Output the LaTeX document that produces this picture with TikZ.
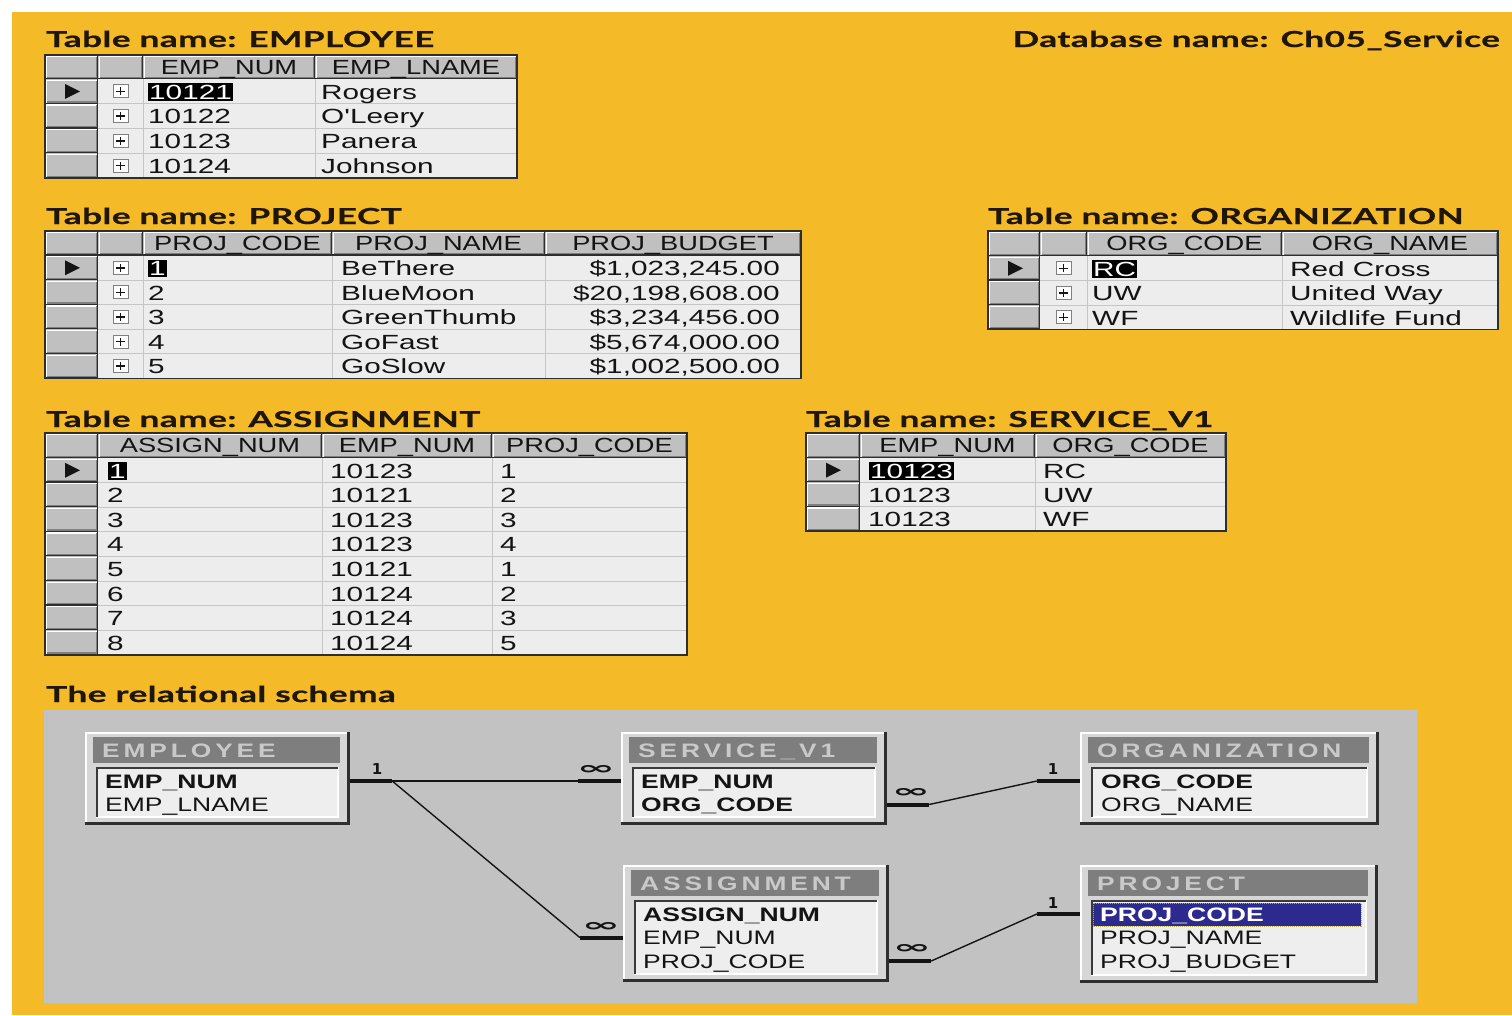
\documentclass[tikz,border=0pt]{standalone}
\usepackage{fontspec}
\usepackage{graphicx}
\usetikzlibrary{fit,calc}
\setmainfont{Liberation Sans}
\newfontfamily\cellfont[FakeStretch=1.45]{Liberation Sans}
\newfontfamily\headfont[FakeStretch=1.33]{Liberation Sans}
\newfontfamily\titlefont[FakeStretch=1.6,FakeBold=0.7,LetterSpace=2]{Lato}
\newfontfamily\schemafont[FakeStretch=1.36]{Liberation Sans}
\newfontfamily\boxtitlefont[FakeStretch=1.35,LetterSpace=20]{Liberation Sans}
\newfontfamily\symfont{DejaVu Sans}

\definecolor{pageyellow}{HTML}{F5BA27}
\definecolor{schemagray}{HTML}{C2C2C2}
\definecolor{hdrgray}{HTML}{C0C0C0}
\definecolor{cellbg}{HTML}{EDEDED}
\definecolor{gridgray}{HTML}{C6C6C6}
\definecolor{edgedark}{HTML}{2E2E2E}
\definecolor{midshadow}{HTML}{808080}
\definecolor{ink}{HTML}{141414}
\definecolor{titleink}{HTML}{1E1608}
\definecolor{boxface}{HTML}{D6D6D6}
\definecolor{titlebar}{HTML}{7E7E7E}
\definecolor{titletext}{HTML}{C9C9C9}
\definecolor{panel}{HTML}{EEEEEE}
\definecolor{panelshadow}{HTML}{3A3A3A}
\definecolor{keynavy}{HTML}{2C2A8E}
\definecolor{focusdots}{HTML}{B8AC50}

% raised grey cell: x1 y1 x2 y2 (y grows downwards)
\newcommand\raised[4]{%
  \fill[hdrgray] (#1,#2) rectangle (#3,#4);
  \draw[white, line width=1.2pt] ({#1+1.2},{#4-1}) -- ({#1+1.2},{#2+1.2}) -- ({#3-1},{#2+1.2});
  \draw[midshadow, line width=1.2pt] ({#1+1.5},{#4-1.8}) -- ({#3-1.8},{#4-1.8}) -- ({#3-1.8},{#2+1.5});
  \draw[edgedark, line width=1.2pt] (#1,{#4-0.6}) -- ({#3-0.6},{#4-0.6}) -- ({#3-0.6},#2);
}
% grid body: left, selector right, right, top, header bottom, row height, rows
\newcommand\tablebase[7]{%
  \pgfmathsetmacro\tbot{#5+#7*#6}%
  \fill[cellbg] (#2,#5) rectangle (#3,\tbot);
  \foreach \k in {1,...,#7}{%
    \pgfmathsetmacro\ya{#5+(\k-1)*#6}%
    \pgfmathsetmacro\yb{#5+\k*#6}%
    \draw[gridgray, line width=1pt] (#2,\yb) -- (#3,\yb);
    \raised{#1}{\ya}{#2}{\yb}%
  }%
  \raised{#1}{#4}{#2}{#5}%
}
\newcommand\tableborder[3]{% left, top, right
  \draw[edgedark, line width=1.8pt] (#1,#2) rectangle (#3,\tbot);
}
% expand box with a plus sign, centred at x y
\newcommand\plusicon[2]{%
  \draw[midshadow, fill=white, line width=1pt] ({#1-7.5},{#2-6.5}) rectangle ({#1+7.5},{#2+6.5});
  \draw[ink, line width=1.6pt] ({#1-4.5},#2) -- ({#1+4.5},#2) (#1,{#2-4}) -- (#1,{#2+4});
}
% current-record marker, centred at x y
\newcommand\rowmark[2]{%
  \fill[ink] ({#1-7},{#2-7.5}) -- ({#1+8},#2) -- ({#1-7},{#2+7.5}) -- cycle;
}
% schema table window: name, x1, y1, x2, y2, title
\newcommand\schemabox[6]{%
  \fill[boxface] (#2,#3) rectangle (#4,#5);
  \draw[white, line width=1.5pt] ({#2+0.75},#5) -- ({#2+0.75},{#3+0.75}) -- (#4,{#3+0.75});
  \draw[edgedark, line width=2.6pt] (#2,{#5-1.3}) -- ({#4-1.3},{#5-1.3}) -- ({#4-1.3},#3);
  \fill[titlebar] ({#2+8},{#3+5}) rectangle ({#4-10},{#3+31});
  \fill[panel] ({#2+11},{#3+35}) rectangle ({#4-12},{#5-8});
  \draw[white, line width=1.5pt] ({#2+11},{#5-8}) -- ({#4-12},{#5-8}) -- ({#4-12},{#3+35});
  \draw[panelshadow, line width=2pt] ({#2+12},{#5-8}) -- ({#2+12},{#3+36}) -- ({#4-12},{#3+36});
  \node[fit={(#2,#3) (#4,#5)}, inner sep=0pt] (#1) {};
  \node[boxttl] (#1-title) at ({#2+17},{#3+25}) {#6};
}

\begin{document}
\begin{tikzpicture}[x=1pt,y=-1pt,
  cell/.style={font=\cellfont\fontsize{20.5}{20.5}\selectfont, inner sep=0pt, anchor=base west, text=ink},
  num/.style={cell, anchor=base east},
  hdr/.style={font=\headfont\fontsize{20.5}{20.5}\selectfont, inner sep=0pt, anchor=base, text=ink},
  sel/.style={fill=black, text=white, inner xsep=1pt, inner ysep=1.5pt},
  ttl/.style={font=\titlefont\bfseries\fontsize{22}{22}\selectfont, inner sep=0pt, anchor=base west, text=titleink},
  fld/.style={font=\schemafont\fontsize{19.5}{19.5}\selectfont, inner sep=0pt, anchor=west,
              text height=14pt, text depth=0pt, text=ink},
  key/.style={fld, font=\schemafont\bfseries\fontsize{19.5}{19.5}\selectfont},
  boxttl/.style={font=\boxtitlefont\bfseries\fontsize{19.5}{19.5}\selectfont, inner sep=0pt,
                 anchor=base west, text=titletext},
  rel/.style={draw=ink, line width=1.4pt},
  relend/.style={draw=ink, line width=4pt},
  card/.style={font=\symfont\bfseries\fontsize{15}{15}\selectfont, inner sep=0pt, text=ink},
  many/.style={font=\symfont\bfseries\fontsize{17}{17}\selectfont, inner sep=0pt, text=ink}]

\useasboundingbox (0,0) rectangle (1512,1015);
\fill[white] (0,0) rectangle (1512,1015);
\fill[pageyellow] (12,12) rectangle (1512,1015);

% ---------- headings ----------
\node[ttl] (t-emp) at (46,47) {Table name: EMPLOYEE};
\node[ttl, anchor=base east] (t-db) at (1500,47) {Database name: Ch05\_Service};
\node[ttl] (t-proj) at (46,224) {Table name: PROJECT};
\node[ttl] (t-org) at (988,224) {Table name: ORGANIZATION};
\node[ttl] (t-asg) at (46,427) {Table name: ASSIGNMENT};
\node[ttl] (t-svc) at (806,427) {Table name: SERVICE\_V1};
\node[ttl] (t-rel) at (46,702) {The relational schema};

% ---------- EMPLOYEE ----------
\tablebase{45}{98}{517}{55}{79}{24.75}{4}
\raised{98}{55}{143}{79}
\raised{143}{55}{315}{79}
\raised{315}{55}{517}{79}
\draw[gridgray, line width=1pt] (143,79) -- (143,\tbot) (315,79) -- (315,\tbot);
\foreach \k in {0,...,3}{\plusicon{120.5}{79+12.4+\k*24.75}}
\rowmark{72}{91.4}
\node[hdr] (emp-h1) at (229,74) {EMP\_NUM};
\node[hdr] (emp-h2) at (416,74) {EMP\_LNAME};
\node[cell, sel] (emp-a1) at (148,99) {10121};
\node[cell] (emp-b1) at (321,99) {Rogers};
\node[cell] (emp-a2) at (148,123.75) {10122};
\node[cell] (emp-b2) at (321,123.75) {O'Leery};
\node[cell] (emp-a3) at (148,148.5) {10123};
\node[cell] (emp-b3) at (321,148.5) {Panera};
\node[cell] (emp-a4) at (148,173.25) {10124};
\node[cell] (emp-b4) at (321,173.25) {Johnson};
\tableborder{45}{55}{517}

% ---------- PROJECT ----------
\tablebase{45}{98}{801}{231}{255.5}{24.6}{5}
\raised{98}{231}{143}{255.5}
\raised{143}{231}{332}{255.5}
\raised{332}{231}{545}{255.5}
\raised{545}{231}{801}{255.5}
\draw[gridgray, line width=1pt] (143,255.5) -- (143,\tbot) (332,255.5) -- (332,\tbot) (545,255.5) -- (545,\tbot);
\foreach \k in {0,...,4}{\plusicon{120.5}{255.5+12.3+\k*24.6}}
\rowmark{72}{267.8}
\node[hdr] (proj-h1) at (237.5,250) {PROJ\_CODE};
\node[hdr] (proj-h2) at (438.5,250) {PROJ\_NAME};
\node[hdr] (proj-h3) at (673,250) {PROJ\_BUDGET};
\node[cell, sel] (proj-a1) at (148,275.5) {1};
\node[cell] (proj-b1) at (341,275.5) {BeThere};
\node[num] (proj-c1) at (780,275.5) {\$1,023,245.00};
\node[cell] (proj-a2) at (148,300.1) {2};
\node[cell] (proj-b2) at (341,300.1) {BlueMoon};
\node[num] (proj-c2) at (780,300.1) {\$20,198,608.00};
\node[cell] (proj-a3) at (148,324.7) {3};
\node[cell] (proj-b3) at (341,324.7) {GreenThumb};
\node[num] (proj-c3) at (780,324.7) {\$3,234,456.00};
\node[cell] (proj-a4) at (148,349.3) {4};
\node[cell] (proj-b4) at (341,349.3) {GoFast};
\node[num] (proj-c4) at (780,349.3) {\$5,674,000.00};
\node[cell] (proj-a5) at (148,373.9) {5};
\node[cell] (proj-b5) at (341,373.9) {GoSlow};
\node[num] (proj-c5) at (780,373.9) {\$1,002,500.00};
\tableborder{45}{231}{801}

% ---------- ORGANIZATION ----------
\tablebase{988}{1040}{1498}{231}{256}{24.5}{3}
\raised{1040}{231}{1087}{256}
\raised{1087}{231}{1282}{256}
\raised{1282}{231}{1498}{256}
\draw[gridgray, line width=1pt] (1087,256) -- (1087,\tbot) (1282,256) -- (1282,\tbot);
\foreach \k in {0,...,2}{\plusicon{1063.5}{256+12.3+\k*24.5}}
\rowmark{1015}{268.3}
\node[hdr] (org-h1) at (1184.5,250) {ORG\_CODE};
\node[hdr] (org-h2) at (1390,250) {ORG\_NAME};
\node[cell, sel] (org-a1) at (1092,276) {RC};
\node[cell] (org-b1) at (1290,276) {Red Cross};
\node[cell] (org-a2) at (1092,300.5) {UW};
\node[cell] (org-b2) at (1290,300.5) {United Way};
\node[cell] (org-a3) at (1092,325) {WF};
\node[cell] (org-b3) at (1290,325) {Wildlife Fund};
\tableborder{988}{231}{1498}

% ---------- ASSIGNMENT ----------
\tablebase{45}{98}{687}{433}{458}{24.6}{8}
\raised{98}{433}{322}{458}
\raised{322}{433}{492}{458}
\raised{492}{433}{687}{458}
\draw[gridgray, line width=1pt] (322,458) -- (322,\tbot) (492,458) -- (492,\tbot);
\rowmark{72}{470.3}
\node[hdr] (asg-h1) at (210,452) {ASSIGN\_NUM};
\node[hdr] (asg-h2) at (407,452) {EMP\_NUM};
\node[hdr] (asg-h3) at (589.5,452) {PROJ\_CODE};
\node[cell, sel] (asg-a1) at (108,478) {1};
\node[cell] (asg-b1) at (330,478) {10123};
\node[cell] (asg-c1) at (500,478) {1};
\node[cell] (asg-a2) at (107,502.6) {2};
\node[cell] (asg-b2) at (330,502.6) {10121};
\node[cell] (asg-c2) at (500,502.6) {2};
\node[cell] (asg-a3) at (107,527.2) {3};
\node[cell] (asg-b3) at (330,527.2) {10123};
\node[cell] (asg-c3) at (500,527.2) {3};
\node[cell] (asg-a4) at (107,551.8) {4};
\node[cell] (asg-b4) at (330,551.8) {10123};
\node[cell] (asg-c4) at (500,551.8) {4};
\node[cell] (asg-a5) at (107,576.4) {5};
\node[cell] (asg-b5) at (330,576.4) {10121};
\node[cell] (asg-c5) at (500,576.4) {1};
\node[cell] (asg-a6) at (107,601) {6};
\node[cell] (asg-b6) at (330,601) {10124};
\node[cell] (asg-c6) at (500,601) {2};
\node[cell] (asg-a7) at (107,625.6) {7};
\node[cell] (asg-b7) at (330,625.6) {10124};
\node[cell] (asg-c7) at (500,625.6) {3};
\node[cell] (asg-a8) at (107,650.2) {8};
\node[cell] (asg-b8) at (330,650.2) {10124};
\node[cell] (asg-c8) at (500,650.2) {5};
\tableborder{45}{433}{687}

% ---------- SERVICE_V1 ----------
\tablebase{806}{860}{1226}{433}{458}{24.4}{3}
\raised{860}{433}{1035}{458}
\raised{1035}{433}{1226}{458}
\draw[gridgray, line width=1pt] (1035,458) -- (1035,\tbot);
\rowmark{833}{470.2}
\node[hdr] (svc-h1) at (947.5,452) {EMP\_NUM};
\node[hdr] (svc-h2) at (1130.5,452) {ORG\_CODE};
\node[cell, sel] (svc-a1) at (869,478) {10123};
\node[cell] (svc-b1) at (1043,478) {RC};
\node[cell] (svc-a2) at (868,502.4) {10123};
\node[cell] (svc-b2) at (1043,502.4) {UW};
\node[cell] (svc-a3) at (868,526.8) {10123};
\node[cell] (svc-b3) at (1043,526.8) {WF};
\tableborder{806}{433}{1226}

% ---------- relational schema ----------
\fill[schemagray] (44,710) rectangle (1417,1003);

\schemabox{semp}{85}{732}{350}{825}{EMPLOYEE}
\node[key] (semp-f1) at (105,781) {EMP\_NUM};
\node[fld] (semp-f2) at (105,804.5) {EMP\_LNAME};

\schemabox{ssvc}{621}{732}{887}{825}{SERVICE\_V1}
\node[key] (ssvc-f1) at (641,781) {EMP\_NUM};
\node[key] (ssvc-f2) at (641,804.5) {ORG\_CODE};

\schemabox{sorg}{1080}{732}{1379}{825}{ORGANIZATION}
\node[key] (sorg-f1) at (1101,781) {ORG\_CODE};
\node[fld] (sorg-f2) at (1101,804.5) {ORG\_NAME};

\schemabox{sasg}{623}{865}{889}{982}{ASSIGNMENT}
\node[key] (sasg-f1) at (643,914) {ASSIGN\_NUM};
\node[fld] (sasg-f2) at (643,937.5) {EMP\_NUM};
\node[fld] (sasg-f3) at (643,961) {PROJ\_CODE};

\schemabox{sproj}{1080}{865}{1378}{983}{PROJECT}
\fill[keynavy] (1093,903) rectangle (1361,926);
\draw[focusdots, densely dotted, line width=1pt] (1093,903) rectangle (1361,926);
\node[key, text=white] (sproj-f1) at (1100,914) {PROJ\_CODE};
\node[fld] (sproj-f2) at (1100,937.5) {PROJ\_NAME};
\node[fld] (sproj-f3) at (1100,961) {PROJ\_BUDGET};

% EMPLOYEE 1 -- many SERVICE_V1 and ASSIGNMENT
\draw[relend] (semp.east |- semp-f1) -- ++(42,0) coordinate (jemp);
\coordinate (jsvc) at ($(ssvc.west |- ssvc-f1)+(-43,0)$);
\coordinate (jasg) at ($(sasg.west |- sasg-f2)+(-43,0)$);
\draw[rel] (jemp) -- (jsvc);
\draw[relend] (jsvc) -- (ssvc.west |- ssvc-f1);
\draw[rel] (jemp) -- (jasg);
\draw[relend] (jasg) -- (sasg.west |- sasg-f2);
\node[card] (c-emp) at (377,769) {1};
\node[many] (m-svc) at (596,770) {\scalebox{2.7}[1.05]{∞}};
\node[many] (m-asg) at (601,927) {\scalebox{2.7}[1.05]{∞}};

% SERVICE_V1 many -- 1 ORGANIZATION
\draw[relend] (ssvc.east |- ssvc-f2) -- ++(42,0) coordinate (jsvc2);
\coordinate (jorg) at ($(sorg.west |- sorg-f1)+(-43,0)$);
\draw[rel] (jsvc2) -- (jorg);
\draw[relend] (jorg) -- (sorg.west |- sorg-f1);
\node[many] (m-svc2) at (911,793) {\scalebox{2.7}[1.05]{∞}};
\node[card] (c-org) at (1053,769) {1};

% ASSIGNMENT many -- 1 PROJECT
\draw[relend] (sasg.east |- sasg-f3) -- ++(42,0) coordinate (jasg2);
\coordinate (jproj) at ($(sproj.west |- sproj-f1)+(-43,0)$);
\draw[rel] (jasg2) -- (jproj);
\draw[relend] (jproj) -- (sproj.west |- sproj-f1);
\node[many] (m-asg2) at (912,949) {\scalebox{2.7}[1.05]{∞}};
\node[card] (c-proj) at (1053,903) {1};

\end{tikzpicture}
\end{document}
